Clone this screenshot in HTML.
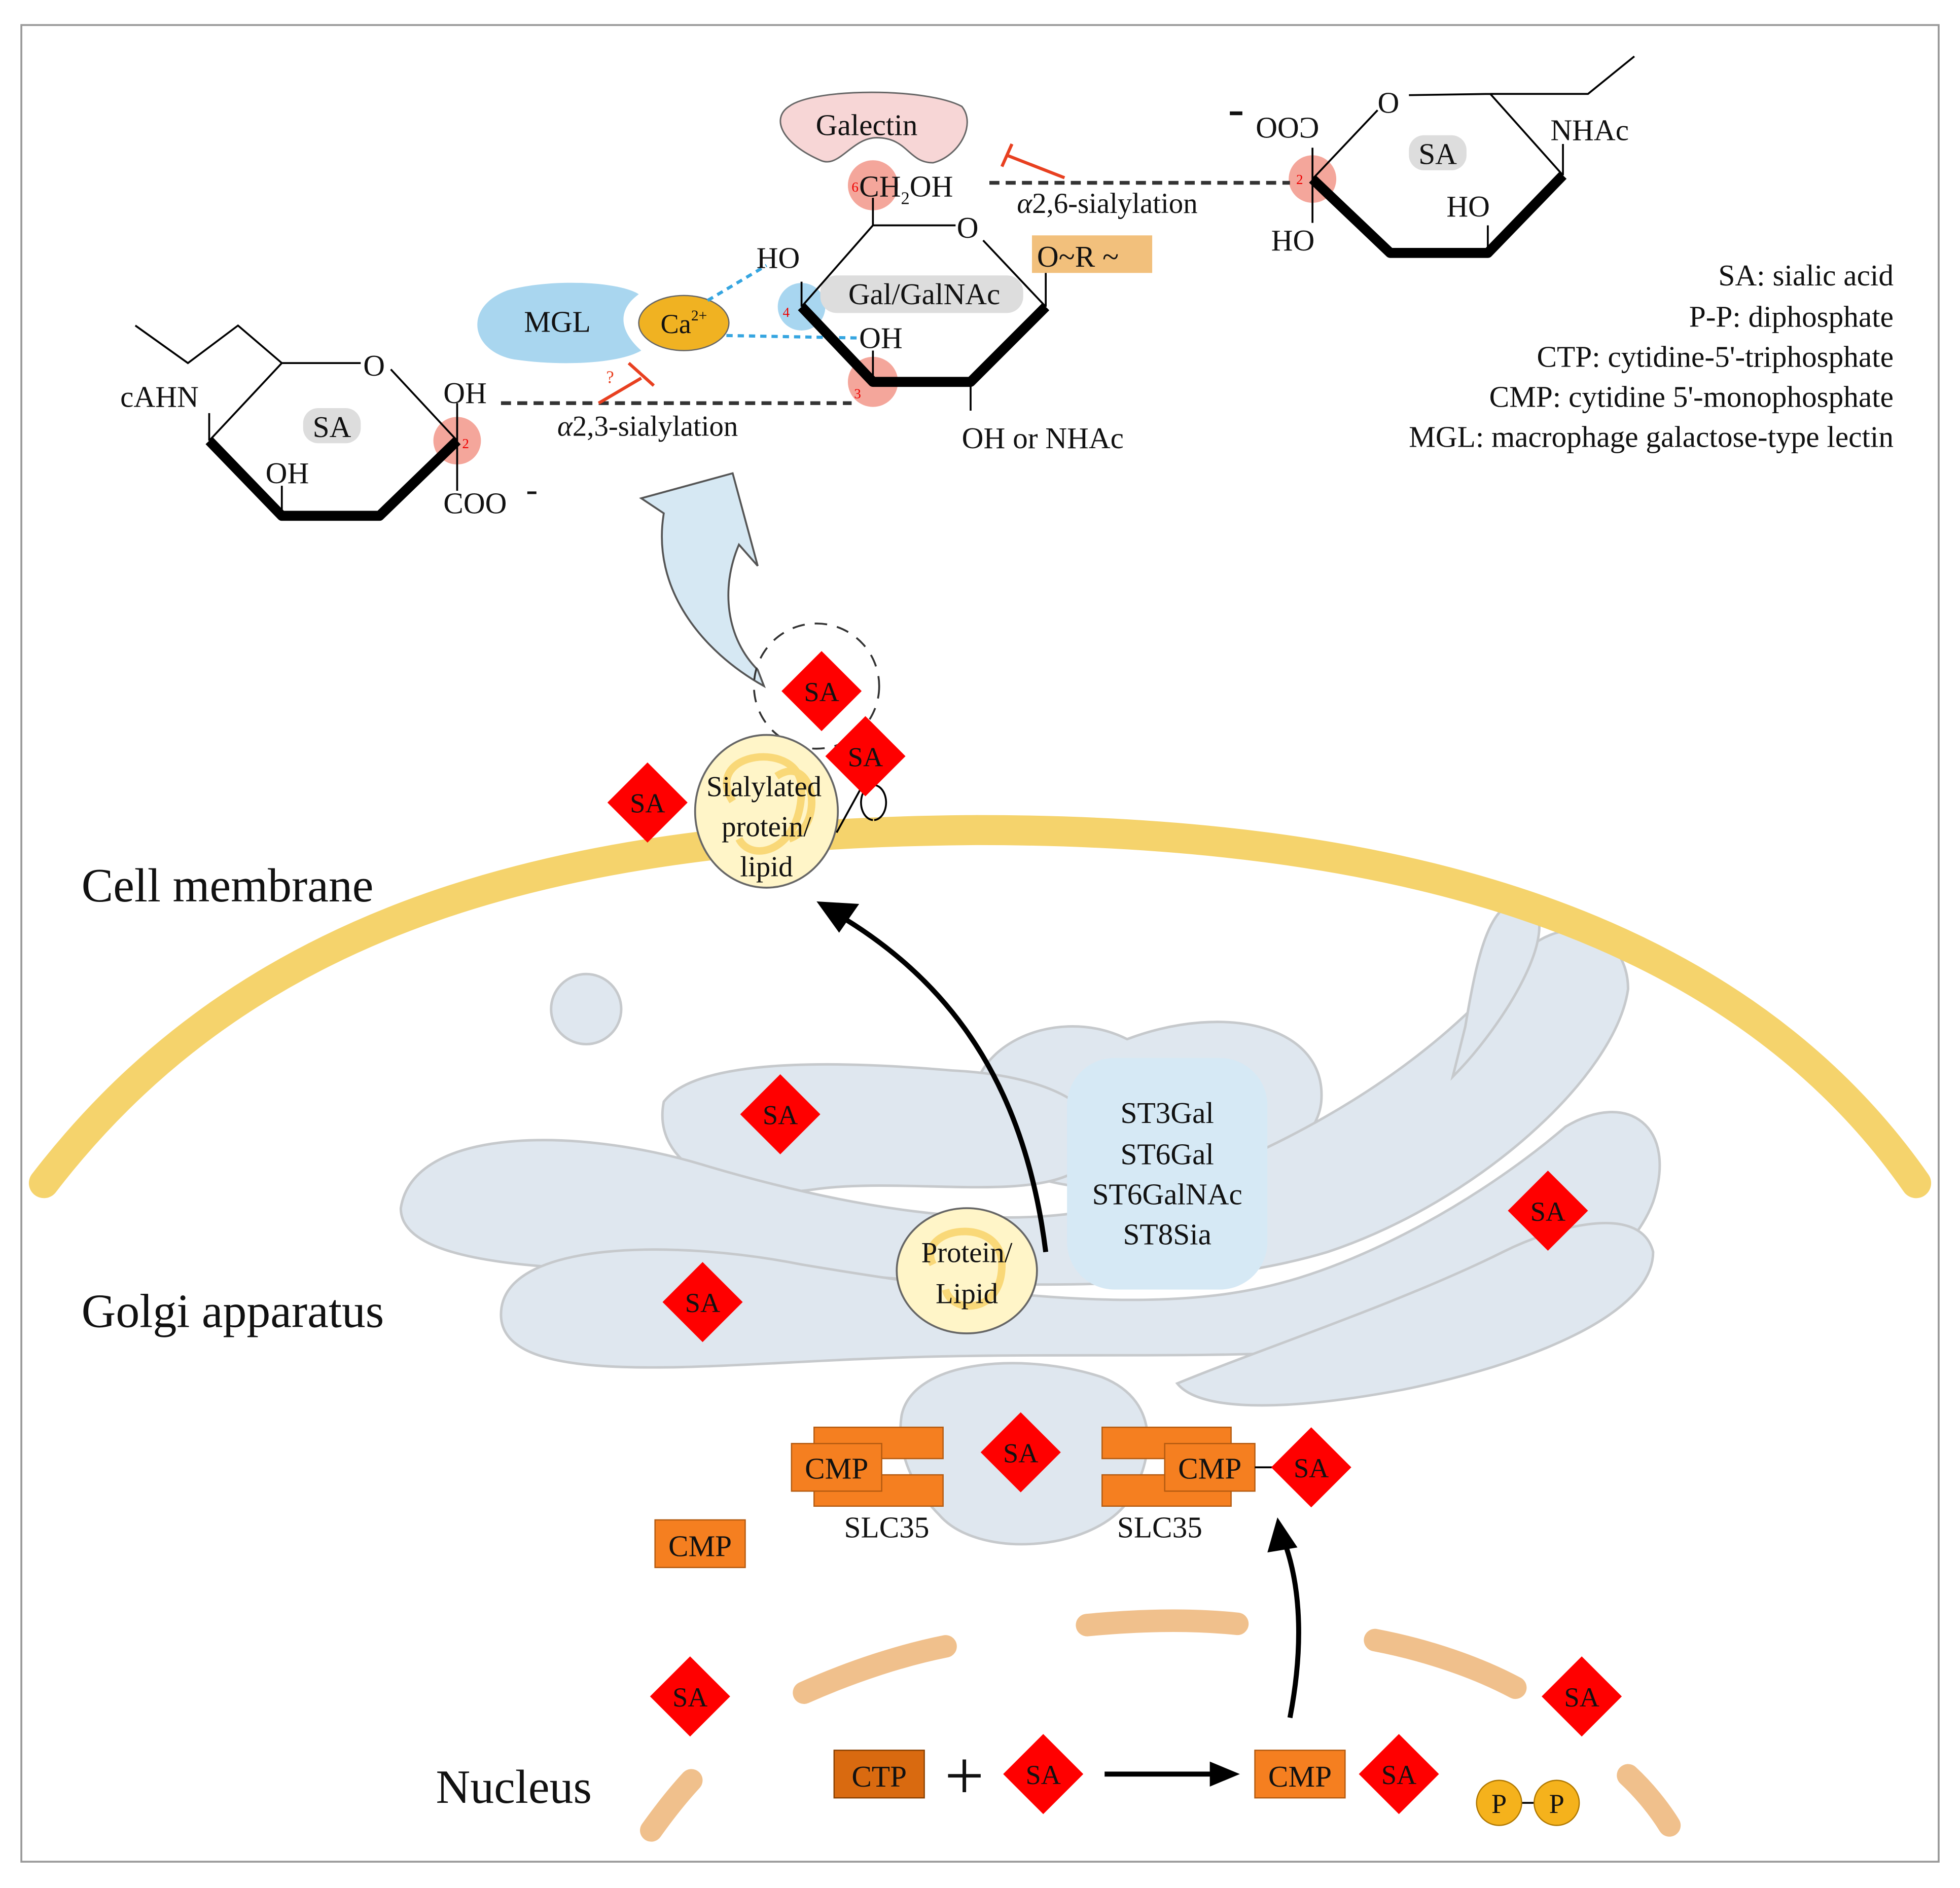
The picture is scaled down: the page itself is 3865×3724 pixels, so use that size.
<!DOCTYPE html>
<html><head><meta charset="utf-8"><style>
html,body{margin:0;padding:0;background:#fff;}
svg{display:block;}
text{font-family:"Liberation Serif",serif;fill:#111;}
</style></head><body>
<svg width="3865" height="3724" viewBox="0 0 1565 1508" xmlns="http://www.w3.org/2000/svg">
<rect x="17" y="20" width="1531" height="1467" fill="#fff" stroke="#999" stroke-width="1.5"/>

<!-- Golgi -->
<g fill="#dfe7ef" stroke="#c6c9cc" stroke-width="2">
<circle cx="468" cy="806" r="28"/>
<path d="M780,900 C760,840 840,800 900,830 C980,800 1060,820 1055,880 C1050,930 960,960 880,950 C820,945 790,930 780,900Z"/>
<path d="M530,880 C560,840 700,850 760,855 C860,860 900,900 860,935 C820,960 720,940 650,950 C580,960 520,930 530,880Z"/>
<path d="M320,965 C330,900 460,900 560,930 C660,960 800,990 900,960 C1000,930 1120,870 1200,780 C1240,720 1300,740 1300,790 C1290,860 1180,960 1060,1000 C960,1030 820,1030 700,1020 C560,1010 320,1030 320,965Z"/>
<path d="M400,1050 C400,990 540,990 640,1010 C760,1030 900,1050 1000,1030 C1080,1015 1180,960 1250,900 C1300,870 1340,900 1320,960 C1290,1040 1150,1080 1040,1080 C940,1085 820,1080 700,1085 C560,1090 400,1110 400,1050Z"/>
<path d="M940,1105 C1000,1080 1120,1040 1200,1000 C1240,980 1310,960 1320,1000 C1320,1050 1220,1090 1120,1110 C1040,1125 960,1130 940,1105Z"/>
<path d="M720,1130 C730,1085 820,1080 880,1100 C930,1120 920,1170 900,1200 C870,1240 780,1245 750,1210 C730,1190 715,1160 720,1130Z"/>
<path d="M1170,820 C1180,760 1190,715 1220,720 C1250,740 1200,820 1160,860Z"/>
</g>
<rect x="852" y="845" width="160" height="185" rx="38" fill="#d6e9f5"/>
<g font-size="24" text-anchor="middle">
<text x="932" y="897">ST3Gal</text><text x="932" y="930">ST6Gal</text><text x="932" y="962">ST6GalNAc</text><text x="932" y="994">ST8Sia</text>
</g>

<!-- Cell membrane -->
<path d="M35,945 C200,730 450,665 780,663 C1100,663 1380,730 1530,945" fill="none" stroke="#f5d36c" stroke-width="24" stroke-linecap="round"/>

<!-- Nucleus dashed -->
<g fill="none" stroke="#f0c08c" stroke-width="18" stroke-linecap="round">
<path d="M520,1462 C530,1448 540,1435 552,1422"/>
<path d="M642,1352 C680,1335 720,1322 755,1315"/>
<path d="M868,1298 C910,1294 950,1293 988,1297"/>
<path d="M1098,1310 C1140,1318 1180,1332 1210,1348"/>
<path d="M1300,1418 C1313,1430 1325,1445 1333,1458"/>
</g>

<!-- big blue arrow -->
<path d="M610,548 C560,520 520,470 530,410 L512,398 L585,378 L605,452 L590,435 C575,470 580,510 605,535Z" fill="#d6e8f3" stroke="#555" stroke-width="1.5"/>
<circle cx="652" cy="548" r="50" fill="none" stroke="#333" stroke-width="1.5" stroke-dasharray="10,8"/>

<!-- arrows -->
<path d="M835,1000 C820,880 770,790 668,730" fill="none" stroke="#000" stroke-width="4"/>
<polygon points="652,720 686,722 670,745" fill="#000"/>
<path d="M1030,1372 C1040,1320 1040,1270 1025,1230" fill="none" stroke="#000" stroke-width="4"/>
<polygon points="1020,1212 1012,1240 1036,1236" fill="#000"/>
<line x1="882" y1="1417" x2="975" y2="1417" stroke="#000" stroke-width="4"/>
<polygon points="990,1417 966,1407 966,1427" fill="#000"/>

<!-- sialylated protein -->
<ellipse cx="612" cy="648" rx="57" ry="61" fill="#fff5c8" stroke="#666" stroke-width="1.5"/>
<path d="M585,640 C560,600 640,590 640,630 C640,680 600,690 590,670 M620,620 C650,600 660,660 630,670" fill="none" stroke="#f6cc55" stroke-width="6" opacity="0.7"/>
<g font-size="23" text-anchor="middle"><text x="610" y="636">Sialylated</text><text x="612" y="668">protein/</text><text x="612" y="700">lipid</text></g>
<path d="M668,665 L690,625 M698,655 a10,14 0 1,0 -1,0" fill="none" stroke="#000" stroke-width="1.5"/>
<ellipse cx="772" cy="1015" rx="56" ry="50" fill="#fff5c8" stroke="#666" stroke-width="1.5"/>
<path d="M745,1010 C730,980 800,970 800,1010 C800,1050 760,1050 755,1030" fill="none" stroke="#f6cc55" stroke-width="6" opacity="0.7"/>
<g font-size="23" text-anchor="middle"><text x="772" y="1008">Protein/</text><text x="772" y="1041">Lipid</text></g>

<!-- SLC35 -->
<g fill="#f57f20" stroke="#b35a10" stroke-width="1">
<rect x="650" y="1140" width="103" height="25"/><rect x="650" y="1178" width="103" height="25"/>
<rect x="632" y="1153" width="72" height="38"/>
<rect x="880" y="1140" width="103" height="25"/><rect x="880" y="1178" width="103" height="25"/>
<rect x="930" y="1153" width="72" height="38"/>
<rect x="523" y="1214" width="72" height="38"/>
<rect x="1002" y="1398" width="72" height="38"/>
</g>
<rect x="666" y="1398" width="72" height="38" fill="#d96a10" stroke="#8a4000"/>
<line x1="1002" y1="1172" x2="1020" y2="1172" stroke="#000" stroke-width="1.5"/>
<g font-size="24" text-anchor="middle">
<text x="668" y="1181">CMP</text><text x="966" y="1181">CMP</text><text x="559" y="1243">CMP</text><text x="1038" y="1427">CMP</text><text x="702" y="1427">CTP</text>
<text x="708" y="1228">SLC35</text><text x="926" y="1228">SLC35</text>
</g>
<text x="770" y="1437" font-size="56" text-anchor="middle">+</text>

<!-- SA diamonds -->
<g fill="#f00">
<polygon points="656,520 688,552 656,584 624,552"/><polygon points="691,572 723,604 691,636 659,604"/><polygon points="517,609 549,641 517,673 485,641"/>
<polygon points="623,858 655,890 623,922 591,890"/><polygon points="561,1008 593,1040 561,1072 529,1040"/><polygon points="1236,935 1268,967 1236,999 1204,967"/>
<polygon points="815,1128 847,1160 815,1192 783,1160"/><polygon points="1047,1140 1079,1172 1047,1204 1015,1172"/><polygon points="551,1323 583,1355 551,1387 519,1355"/>
<polygon points="1263,1323 1295,1355 1263,1387 1231,1355"/><polygon points="833,1385 865,1417 833,1449 801,1417"/><polygon points="1117,1385 1149,1417 1117,1449 1085,1417"/>
</g>
<g font-size="22" text-anchor="middle">
<text x="656" y="560">SA</text><text x="691" y="612">SA</text><text x="517" y="649">SA</text><text x="623" y="898">SA</text><text x="561" y="1048">SA</text><text x="1236" y="975">SA</text>
<text x="815" y="1168">SA</text><text x="1047" y="1180">SA</text><text x="551" y="1363">SA</text><text x="1263" y="1363">SA</text><text x="833" y="1425">SA</text><text x="1117" y="1425">SA</text>
</g>

<!-- P-P -->
<line x1="1197" y1="1440" x2="1243" y2="1440" stroke="#000" stroke-width="1.5"/>
<circle cx="1197" cy="1440" r="18" fill="#f5b21c" stroke="#b07800"/><circle cx="1243" cy="1440" r="18" fill="#f5b21c" stroke="#b07800"/>
<text x="1197" y="1448" font-size="22" text-anchor="middle">P</text><text x="1243" y="1448" font-size="22" text-anchor="middle">P</text>

<!-- labels -->
<g font-size="38"><text x="65" y="720">Cell membrane</text><text x="65" y="1060">Golgi apparatus</text><text x="348" y="1440">Nucleus</text></g>

<!-- Legend -->
<g font-size="24" text-anchor="end">
<text x="1512" y="228">SA: sialic acid</text><text x="1512" y="261">P-P: diphosphate</text><text x="1512" y="293">CTP: cytidine-5'-triphosphate</text>
<text x="1512" y="325">CMP: cytidine 5'-monophosphate</text><text x="1512" y="357">MGL: macrophage galactose-type lectin</text>
</g>

<!-- Galectin, MGL -->
<path d="M630,85 C650,70 740,70 768,85 C780,100 765,125 745,130 C725,130 725,110 700,110 C680,110 670,135 655,128 C625,115 615,95 630,85Z" fill="#f7d6d6" stroke="#666" stroke-width="1.2"/>
<text x="692" y="108" font-size="24" text-anchor="middle">Galectin</text>
<path d="M510,235 C495,225 440,222 405,232 C370,245 375,280 410,287 C450,293 495,290 512,280 C495,265 492,248 510,235Z" fill="#a9d6ef"/>
<text x="445" y="265" font-size="24" text-anchor="middle">MGL</text>
<ellipse cx="546" cy="258" rx="36" ry="22" fill="#f0b222" stroke="#666"/>
<text x="546" y="266" font-size="22" text-anchor="middle">Ca<tspan font-size="12" dy="-10">2+</tspan></text>
<g stroke="#35a5e0" stroke-width="2.5" stroke-dasharray="5,4" fill="none"><path d="M565,240 L612,212"/><path d="M580,268 L688,270"/></g>

<!-- highlight circles -->
<g fill="#f2978a" opacity="0.85"><circle cx="697" cy="148" r="20"/><circle cx="697" cy="305" r="20"/><circle cx="365" cy="352" r="19"/><circle cx="1048" cy="143" r="19"/></g>
<circle cx="640" cy="245" r="19" fill="#a8d6f0"/>
<g font-size="11"><text x="680" y="153" style="fill:#e00">6</text><text x="625" y="253" style="fill:#e00">4</text><text x="682" y="318" style="fill:#e00">3</text><text x="369" y="358" style="fill:#e00">2</text><text x="1035" y="147" style="fill:#e00">2</text></g>
<rect x="242" y="326" width="46" height="28" rx="12" fill="#ddd"/><text x="265" y="349" font-size="24" text-anchor="middle">SA</text>
<rect x="1125" y="108" width="46" height="28" rx="12" fill="#ddd"/><text x="1148" y="131" font-size="24" text-anchor="middle">SA</text>
<rect x="655" y="220" width="162" height="30" rx="13" fill="#ddd"/><text x="738" y="243" font-size="24" text-anchor="middle">Gal/GalNAc</text>
<rect x="824" y="188" width="96" height="30" fill="#f2c07c"/><text x="828" y="213" font-size="24">O~R ~</text>

<!-- Gal ring -->
<g stroke="#000" fill="none">
<path d="M763,180 L697,180 L640,245 M785,192 L835,245 M697,180 L697,158 M640,245 L640,225 M697,305 L697,280 M775,305 L775,328 M835,245 L835,218" stroke-width="1.5"/>
<path d="M640,245 L697,305 L775,305 L835,245" stroke-width="8" stroke-linejoin="round"/>
</g>
<g font-size="24"><text x="764" y="190">O</text><text x="686" y="157">CH<tspan font-size="14" dy="6">2</tspan><tspan dy="-6">OH</tspan></text><text x="604" y="214">HO</text><text x="686" y="278">OH</text><text x="768" y="358">OH or NHAc</text></g>

<!-- left SA ring -->
<g stroke="#000" fill="none">
<path d="M288,290 L225,290 L167,352 M312,295 L365,352 M225,290 L190,260 L150,290 L108,260 M365,352 L365,322 M365,352 L365,392 M167,352 L167,330 M225,412 L225,388" stroke-width="1.5"/>
<path d="M167,352 L225,412 L303,412 L365,352" stroke-width="8" stroke-linejoin="round"/>
</g>
<g font-size="24"><text x="290" y="300">O</text><text x="96" y="325">cAHN</text><text x="212" y="386">OH</text><text x="354" y="322">OH</text><text x="354" y="410">COO</text><text x="420" y="400" font-size="28">-</text></g>
<line x1="400" y1="322" x2="680" y2="322" stroke="#333" stroke-width="3" stroke-dasharray="8,5"/>
<text x="445" y="348" font-size="23"><tspan font-style="italic">α</tspan>2,3-sialylation</text>
<path d="M478,322 L512,302 M502,290 L522,308" stroke="#e84020" stroke-width="2.5" fill="none"/>
<text x="484" y="306" font-size="14" style="fill:#e84020">?</text>

<!-- right SA ring -->
<g stroke="#000" fill="none">
<path d="M1048,143 L1100,88 M1125,76 L1190,75 L1248,140 M1190,75 L1268,75 L1305,45 M1048,143 L1048,118 M1048,143 L1048,178 M1248,140 L1248,115 M1188,202 L1188,180" stroke-width="1.5"/>
<path d="M1048,143 L1110,202 L1188,202 L1248,140" stroke-width="8" stroke-linejoin="round"/>
</g>
<g font-size="24"><text x="1100" y="90">O</text><text x="1238" y="112">NHAc</text><text x="1155" y="173">HO</text><text x="1015" y="200">HO</text></g>
<text x="1028" y="110" font-size="24" text-anchor="middle" transform="translate(2056,0) scale(-1,1)">COO</text>
<rect x="982" y="89" width="10" height="3" fill="#111"/>
<line x1="790" y1="146" x2="1030" y2="146" stroke="#333" stroke-width="3" stroke-dasharray="8,5"/>
<text x="812" y="170" font-size="23"><tspan font-style="italic">α</tspan>2,6-sialylation</text>
<path d="M800,133 L808,115 M804,124 L850,142" stroke="#e84020" stroke-width="2.5" fill="none"/>
</svg>
</body></html>
